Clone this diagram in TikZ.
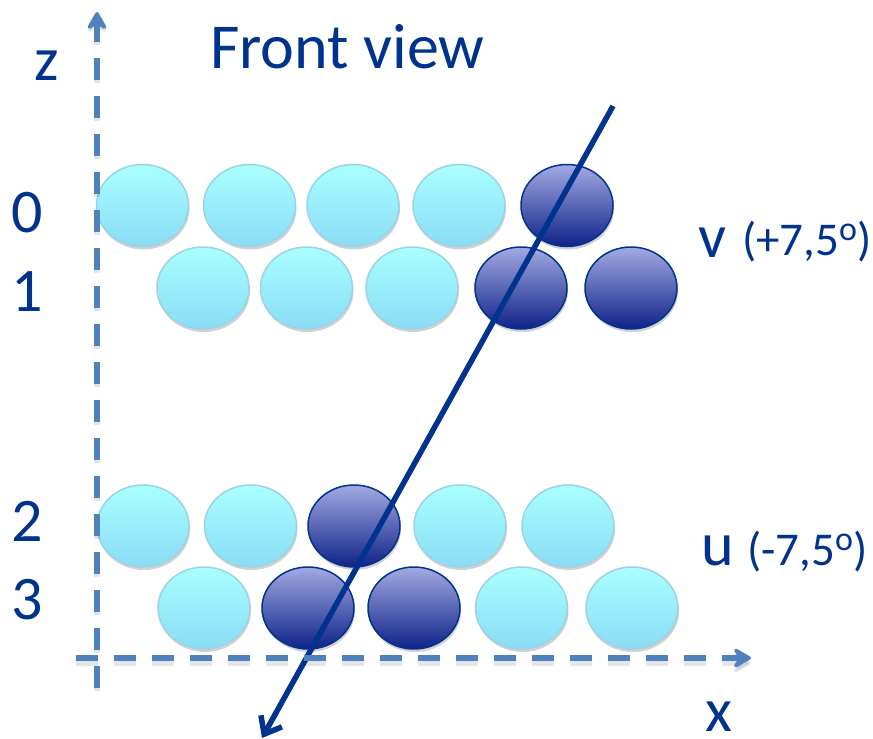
\documentclass[tikz,border=0pt]{standalone}
\usepackage{fontspec}
\setmainfont{Carlito}
\usetikzlibrary{shapes.geometric, arrows.meta, positioning, shadows}

\definecolor{labelblue}{HTML}{00338D}
\definecolor{axisblue}{HTML}{4F81BD}
\definecolor{idleedge}{HTML}{9BD3E6}
\definecolor{idletop}{HTML}{A9FFFF}
\definecolor{idlebottom}{HTML}{8ADCF5}
\definecolor{hittop}{HTML}{A2AAE2}
\definecolor{hitbottom}{HTML}{0F2288}
\newcommand{\degsup}{\raisebox{15pt}{\fontsize{34pt}{34pt}\selectfont o}}

\begin{document}
\begin{tikzpicture}[
    x=1pt, y=-1pt,
    wire/.style={ellipse, line width=1.5pt, minimum width=92pt, minimum height=82pt, inner sep=0pt, drop shadow={shadow xshift=1pt, shadow yshift=-3pt, opacity=.18, fill=black}},
    idle/.style={wire, draw=idleedge, top color=idletop, bottom color=idlebottom},
    hit/.style={wire, draw=labelblue, top color=hittop, bottom color=hitbottom},
    axisline/.style={draw=axisblue, line width=6pt, dash pattern=on 22pt off 16pt, -{Stealth[length=22pt, width=25pt, inset=8pt, round]}},
    axisshadow/.style={axisline, draw=black, opacity=.1},
    big/.style={text=labelblue, font=\fontsize{62pt}{62pt}\selectfont, inner sep=0pt, anchor=base west},
    small/.style={text=labelblue, font=\fontsize{47pt}{47pt}\selectfont, inner sep=0pt, anchor=base west}
]
    \useasboundingbox (0,0) rectangle (873,739);
    % rows of wires
    \foreach \name/\xpos in {a/142.5, b/249.5, c/353, d/459} \node[idle] (r0\name) at (\xpos,205.5) {};
    \node[hit] (r0e) at (567,205.5) {};
    \foreach \name/\xpos in {a/203, b/306.5, c/412} \node[idle] (r1\name) at (\xpos,288) {};
    \foreach \name/\xpos in {d/521, e/631} \node[hit] (r1\name) at (\xpos,288) {};
    \foreach \name/\xpos in {a/143, b/250.5, d/460, e/568} \node[idle] (r2\name) at (\xpos,526) {};
    \node[hit] (r2c) at (354,526) {};
    \foreach \name/\xpos in {a/204, d/521.5, e/632} \node[idle] (r3\name) at (\xpos,608) {};
    \foreach \name/\xpos in {b/308, c/414} \node[hit] (r3\name) at (\xpos,608) {};
    % track
    \coordinate (trackstart) at (613,106);
    \coordinate (trackend) at (262,738);
    \draw[labelblue, line width=5.5pt, -{Straight Barb[length=15pt, width=24pt]}] (trackstart) -- (trackend);
    % axes
    \coordinate (zstart) at (97,688);
    \coordinate (zend) at (97,12);
    \coordinate (xstart) at (76,658);
    \coordinate (xend) at (751,658);
    \draw[axisshadow] ([yshift=-3pt]zstart) -- ([yshift=-3pt]zend);
    \draw[axisshadow] ([yshift=-5pt]xstart) -- ([yshift=-5pt]xend);
    \draw[axisline] (zstart) -- (zend);
    \draw[axisline] (xstart) -- (xend);
    % labels
    \node[big, font=\fontsize{64pt}{64pt}\selectfont] (title) at (210,68) {Front view};
    \node[big] (zlabel) at (34,80) {z};
    \node[big] (xlabel) at (705,731) {x};
    \node[big] (row0) at (11,232) {0};
    \node[big] (row1) at (11,311) {1};
    \node[big] (row2) at (11,541) {2};
    \node[big] (row3) at (11,619) {3};
    \node[big] (vlabel) at (698,257) {v};
    \node[small] (vangle) at (742,255) {(+7,5\degsup)};
    \node[big] (ulabel) at (701,565) {u};
    \node[small] (uangle) at (747,565) {(-7,5\degsup)};
\end{tikzpicture}
\end{document}
